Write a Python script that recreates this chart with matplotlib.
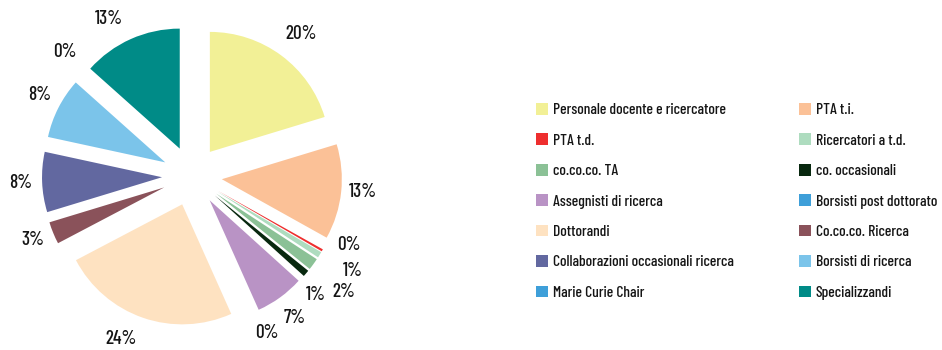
import matplotlib
matplotlib.use("Agg")
import matplotlib.pyplot as plt
import numpy as np

# Staff categories, in the order the slices run clockwise from 12 o'clock
categories = [
    "Personale docente e ricercatore",
    "PTA t.i.",
    "PTA t.d.",
    "Ricercatori a t.d.",
    "co.co.co. TA",
    "co. occasionali",
    "Assegnisti di ricerca",
    "Borsisti post dottorato",
    "Dottorandi",
    "Co.co.co. Ricerca",
    "Collaborazioni occasionali ricerca",
    "Borsisti di ricerca",
    "Marie Curie Chair",
    "Specializzandi",
]
shares = [20.3, 12.8, 0.3, 0.8, 1.6, 0.9, 6.6, 0.0, 24.0, 3.0, 8.1, 8.2, 0.0, 13.4]
pct_labels = ["20%", "13%", "0%", "1%", "2%", "1%", "7%", "0%", "24%", "3%", "8%", "8%", "0%", "13%"]
colors = [
    "#F2F096", "#FBC197", "#EE2E2E", "#AEDCBF", "#8BC196", "#08280F", "#B993C5",
    "#3E9FD9", "#FEE2C1", "#8A525A", "#6268A0", "#7BC4EA", "#3E9FD9", "#008B87",
]

# per-label nudges (degrees) and radial distances so the small slices' labels do not collide
label_shift = [-1, 0.8, 6.1, 1.2, -1.4, -3.3, 0, 1.4, -4.6, -0.5, 0, -0.9, -2.4, 3.6]
label_dist = [1.49, 1.43, 1.43, 1.56, 1.59, 1.43, 1.46, 1.45, 1.48, 1.43, 1.43, 1.44, 1.48, 1.48]

FONT = ["Barlow Condensed", "DejaVu Sans"]
plt.rcParams["font.family"] = FONT
TEXT_COLOR = "#151515"

W, H = 942, 350
fig = plt.figure(figsize=(W / 100, H / 100), dpi=100)

R = 120            # pie radius in pixels
cx, cy = 192, 174  # pie centre in pixels from bottom-left
ax_w = 400
ax = fig.add_axes([0, 0, ax_w / W, 1])

wedges, _ = ax.pie(
    shares,
    colors=colors,
    startangle=90,
    counterclock=False,
    explode=[0.25] * len(shares),
    radius=1,
    wedgeprops=dict(linewidth=0),
)
ax.set_aspect("auto")
ax.set_xlim(-cx / R, (ax_w - cx) / R)
ax.set_ylim(-cy / R, (H - cy) / R)
ax.axis("off")

for w, txt, sh, d in zip(wedges, pct_labels, label_shift, label_dist):
    mid = np.deg2rad((w.theta1 + w.theta2) / 2 + sh)
    ax.text(d * np.cos(mid), d * np.sin(mid), txt, ha="center", va="center",
            fontsize=13.8, fontweight="medium", color=TEXT_COLOR)

leg_kw = dict(
    loc="upper left",
    frameon=False,
    borderpad=0,
    borderaxespad=0,
    handlelength=0.78,
    handleheight=0.78,
    handletextpad=0.3,
    labelspacing=1.04,
    prop=dict(family=FONT, size=11.2, weight="medium"),
    labelcolor=TEXT_COLOR,
)
fig.legend(wedges[0::2], categories[0::2], bbox_to_anchor=(536 / W, (H - 103) / H), **leg_kw)
fig.legend(wedges[1::2], categories[1::2], bbox_to_anchor=(799 / W, (H - 103) / H), **leg_kw)

fig.savefig("out.png", dpi=100)
